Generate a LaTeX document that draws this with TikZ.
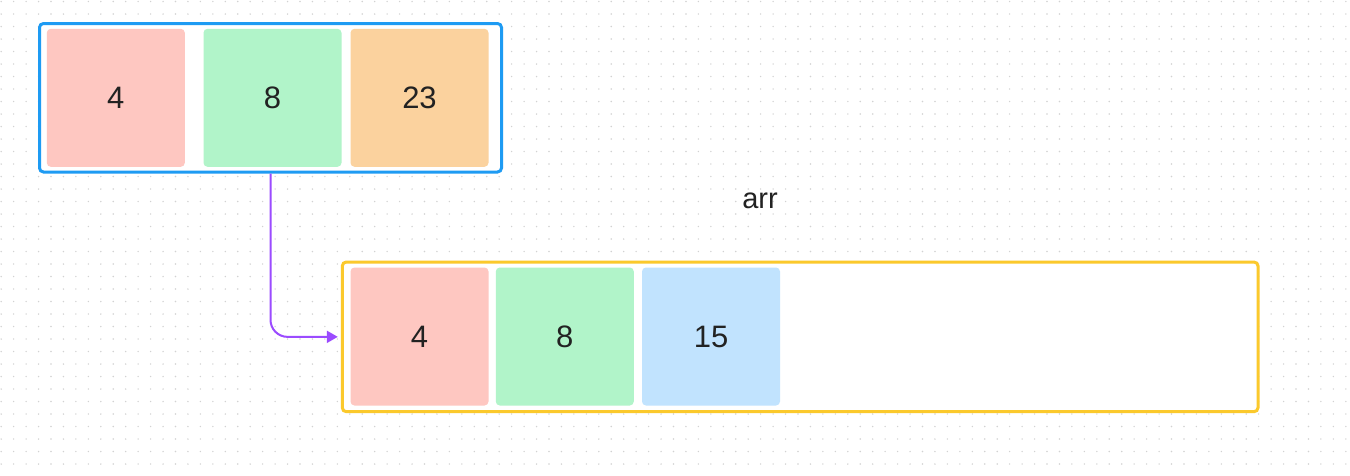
\documentclass[tikz,border=0pt]{standalone}
\usepackage{fontspec}
\setmainfont{Liberation Sans}
\usetikzlibrary{arrows.meta}
\definecolor{cellpink}{HTML}{FEC7C1}
\definecolor{cellgreen}{HTML}{B1F4C9}
\definecolor{cellorange}{HTML}{FBD29E}
\definecolor{cellblue}{HTML}{C1E3FE}
\definecolor{frameblue}{HTML}{1E9BF3}
\definecolor{frameyellow}{HTML}{FBC92C}
\definecolor{arrowpurple}{HTML}{9B4BFF}
\definecolor{dotgrey}{HTML}{D2D2D2}
\definecolor{textdark}{HTML}{222222}
\tikzset{
  cell/.style={rectangle, rounded corners=4pt, inner sep=0pt,
    minimum width=138pt, minimum height=138pt, text=textdark,
    font=\fontsize{31}{36}\selectfont},
  frame/.style={rectangle, rounded corners=4pt, inner sep=0pt, line width=3pt, fill=white},
  link/.style={draw=arrowpurple, line width=2pt, rounded corners=17pt, shorten >=3pt,
    -{Triangle[length=11pt,width=12pt]}},
  caption/.style={text=textdark, font=\fontsize{29}{34}\selectfont}
}
\begin{document}
\begin{tikzpicture}[x=1pt,y=-1pt]
\useasboundingbox (0,0) rectangle (1350,475);
\fill[white] (0,0) rectangle (1350,475);
\foreach \i in {0,...,108}{
  \foreach \j in {0,...,37}{
    \fill[dotgrey] (1.2+\i*12.45, 1.5+\j*12.5) circle (0.8);
  }
}
% top array
\node[frame, draw=frameblue, minimum width=462pt, minimum height=148.5pt] (top) at (270.5,97.75) {};
\node[cell, fill=cellpink]   (t1) at (115.8,97.8) {4};
\node[cell, fill=cellgreen]  (t2) at (272.5,97.8) {8};
\node[cell, fill=cellorange] (t3) at (419.5,97.8) {23};
% bottom array
\node[frame, draw=frameyellow, minimum width=915.7pt, minimum height=149.7pt] (bot) at (800.15,336.85) {};
\node[cell, fill=cellpink]  (b1) at (419.5,336.5) {4};
\node[cell, fill=cellgreen] (b2) at (564.8,336.5) {8};
\node[cell, fill=cellblue]  (b3) at (711,336.5) {15};
% label
\node[caption, anchor=base] (lbl) at (760,208.5) {arr};
% connector
\draw[link] (top.south) |- (bot.west);
\end{tikzpicture}
\end{document}
